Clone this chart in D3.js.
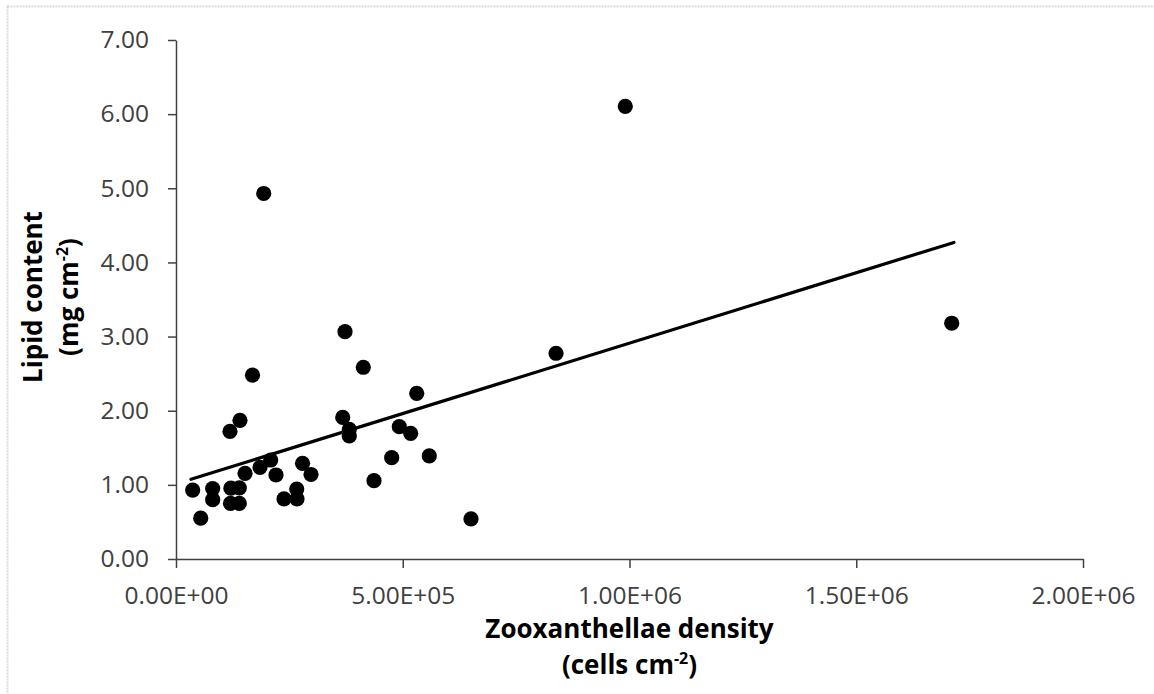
<!DOCTYPE html>
<html>
<head>
<meta charset="utf-8">
<script src="https://cdn.jsdelivr.net/npm/d3@7"></script>
<style>
    body { margin: 0; background: #fff; }
    svg { display: block; }
</style>
</head>
<body>
<div id="chart"></div>
<script>
// zooxanthellae density (cells cm-2) and lipid content (mg cm-2)
const density = [36800, 54500, 80900, 80900, 121000, 120200, 139600, 139600, 119000, 141100,
    152200, 168700, 185200, 193400, 208800, 220500, 238200, 266200, 266800, 279000,
    297700, 367600, 372700, 382100, 382100, 413000, 436600, 475600, 492400, 517500,
    530800, 558500, 650500, 838000, 990700, 1710500];
const lipid = [0.93, 0.55, 0.95, 0.80, 0.955, 0.75, 0.96, 0.75, 1.72, 1.87,
    1.156, 2.48, 1.235, 4.93, 1.335, 1.133, 0.81, 0.944, 0.81, 1.29,
    1.14, 1.91, 3.066, 1.75, 1.66, 2.586, 1.056, 1.366, 1.785, 1.695,
    2.235, 1.39, 0.54, 2.775, 6.106, 3.18];

// linear trendline ends (x, y)
const trendX = [33000, 1715500];
const trendY = [1.075, 4.27];

const xTicks = [0, 500000, 1000000, 1500000, 2000000];
const xTickLabels = ['0.00E+00', '5.00E+05', '1.00E+06', '1.50E+06', '2.00E+06'];
const yTicks = [0, 1, 2, 3, 4, 5, 6, 7];

const svgWidth = 1154;
const svgHeight = 694;
const margin = {top: 40, right: 71, bottom: 135, left: 176};
const width = svgWidth - margin.left - margin.right;
const height = svgHeight - margin.top - margin.bottom;

const font = "'Open Sans', 'Noto Sans', sans-serif";

const svg = d3.select('#chart').append('svg')
    .attr('width', svgWidth)
    .attr('height', svgHeight);

// outer chart frame
svg.append('rect')
    .attr('x', 7.5).attr('y', 6.5)
    .attr('width', svgWidth + 20).attr('height', svgHeight + 20)
    .attr('fill', 'none')
    .attr('stroke', '#d9d9d9')
    .attr('stroke-width', 2)
    .attr('stroke-dasharray', '2,1');

const g = svg.append('g').attr('transform', `translate(${margin.left},${margin.top})`);

const x = d3.scaleLinear().domain([0, 2000000]).range([0, width]);
const y = d3.scaleLinear().domain([0, 7]).range([height, 0]);

const xAxis = g.append('g')
    .attr('transform', `translate(0,${height})`)
    .call(d3.axisBottom(x).tickValues(xTicks).tickFormat((d, i) => xTickLabels[i]).tickSizeInner(9).tickSizeOuter(0).tickPadding(19));

const yAxis = g.append('g')
    .call(d3.axisLeft(y).tickValues(yTicks).tickFormat(d3.format('.2f')).tickSizeInner(8).tickSizeOuter(0).tickPadding(19));

[xAxis, yAxis].forEach(a => {
    a.select('.domain').attr('stroke', '#404040').attr('stroke-width', 1.5);
    a.selectAll('.tick line').attr('stroke', '#404040').attr('stroke-width', 1.5);
    a.selectAll('.tick text')
        .attr('fill', '#404040')
        .style('font-family', font)
        .style('font-size', '24.5px');
});

// trendline
const line = d3.line().x(d => x(d[0])).y(d => y(d[1]));
g.append('path')
    .datum(trendX.map((d, i) => [d, trendY[i]]))
    .attr('d', line)
    .attr('fill', 'none')
    .attr('stroke', '#000')
    .attr('stroke-width', 3.2)
    .attr('stroke-linecap', 'round');

// points
g.selectAll('circle')
    .data(density.map((d, i) => ({x: d, y: lipid[i]})))
    .enter()
    .append('circle')
    .attr('cx', d => x(d.x))
    .attr('cy', d => y(d.y))
    .attr('r', 7.6)
    .attr('fill', '#000');

// axis titles
function title(sel, text, sup, after) {
    sel.append('tspan').text(text);
    if (sup) {
        sel.append('tspan').attr('font-size', '16px').attr('dy', -10).text(sup);
        sel.append('tspan').attr('dy', 10).text(after);
    }
}

const titleStyle = s => s
    .attr('text-anchor', 'middle')
    .attr('fill', '#000')
    .style('font-family', font)
    .style('font-size', '26px')
    .style('font-weight', 'bold');

svg.append('text').call(titleStyle)
    .attr('x', margin.left + x(1000000)).attr('y', 638)
    .call(title, 'Zooxanthellae density');
svg.append('text').call(titleStyle)
    .attr('x', margin.left + x(1000000)).attr('y', 674)
    .call(title, '(cells cm', '-2', ')');

svg.append('text').call(titleStyle)
    .attr('transform', 'translate(42,297) rotate(-90)')
    .call(title, 'Lipid content');
svg.append('text').call(titleStyle)
    .attr('transform', 'translate(78,297) rotate(-90)')
    .call(title, '(mg cm', '-2', ')');
</script>
</body>
</html>
